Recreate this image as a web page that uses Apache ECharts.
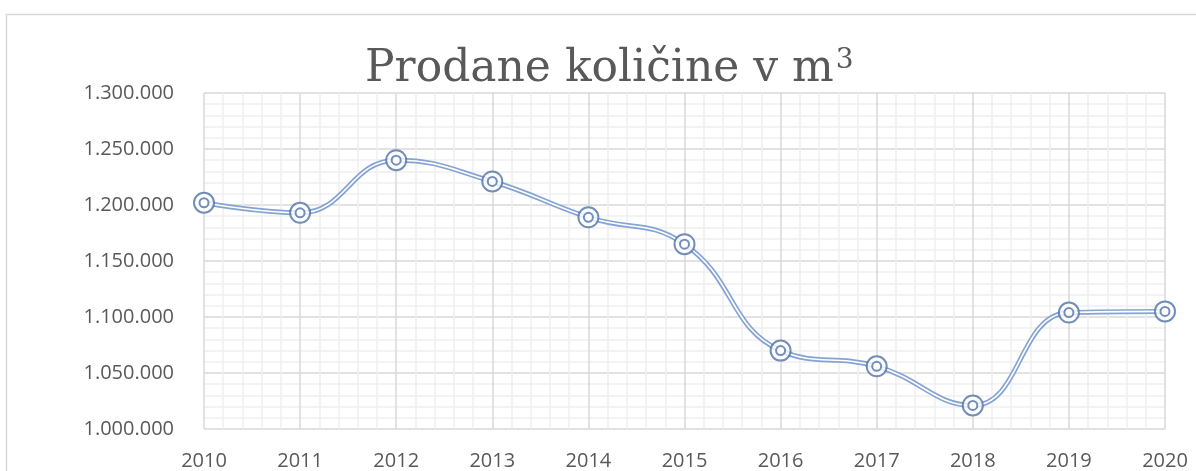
<!DOCTYPE html>
<html>
<head>
<meta charset="utf-8">
<script src="https://cdn.jsdelivr.net/npm/echarts@6/dist/echarts.min.js"></script>
<style>
  html, body { margin: 0; padding: 0; background: #fff; }
  #chart { width: 1196px; height: 471px; }
</style>
</head>
<body>
<div id="chart"></div>
<script>
// years on the x axis
const years = [2010, 2011, 2012, 2013, 2014, 2015, 2016, 2017, 2018, 2019, 2020];
// sold quantities in m3
const quantities = [1202000, 1193000, 1240000, 1221000, 1189000, 1165000, 1070000, 1056000, 1021000, 1104000, 1105000];

const chartTitle = "Prodane količine v m";

function pairs(xs, ys) {
  let out = [];
  for (let i = 0; i < xs.length; i++) {
    out.push([xs[i], ys[i]]);
  }
  return out;
}

// 1.300.000 style labels
function dotted(v) {
  return String(Math.round(v)).replace(/\B(?=(\d{3})+(?!\d))/g, ".");
}

const chart = echarts.init(document.getElementById("chart"));
const points = pairs(years, quantities);
const labelColor = "#595959";
const ringColor = "#5073a8";

const option = {
  animation: false,
  title: {
    text: "{t|" + chartTitle + "}{s|3}",
    left: 360,
    top: 42,
    textStyle: {
      rich: {
        t: { fontFamily: "DejaVu Serif", fontWeight: "normal", fontSize: 44, color: labelColor },
        s: { fontFamily: "DejaVu Serif", fontWeight: "normal", fontSize: 28, color: labelColor, verticalAlign: "top", padding: [0, 0, 18, 2] },
      },
    },
  },
  graphic: [
    {
      type: "rect",
      shape: { x: 6.5, y: 14.5, width: 1220, height: 500 },
      style: { fill: "none", stroke: "#d9d9d9", lineWidth: 1.5 },
      silent: true,
    },
  ],
  grid: { left: 204, right: 31, top: 93, bottom: 41 },
  xAxis: {
    type: "value",
    min: 2010,
    max: 2020,
    interval: 1,
    axisLine: { show: false },
    axisTick: { show: false },
    axisLabel: { color: labelColor, fontFamily: "Open Sans", fontSize: 20, margin: 22, formatter: (v) => String(v) },
    splitLine: { show: true, lineStyle: { color: "#d9d9d9", width: 1.5 } },
    minorTick: { show: false, splitNumber: 5 },
    minorSplitLine: { show: true, lineStyle: { color: "#efefef", width: 1.5 } },
  },
  yAxis: {
    type: "value",
    min: 1000000,
    max: 1300000,
    interval: 50000,
    axisLine: { show: false },
    axisTick: { show: false },
    axisLabel: { color: labelColor, fontFamily: "Open Sans", fontSize: 20, margin: 30, formatter: dotted },
    splitLine: { show: true, lineStyle: { color: "#d9d9d9", width: 1.5 } },
    minorTick: { show: false, splitNumber: 5 },
    minorSplitLine: { show: true, lineStyle: { color: "#efefef", width: 1.5 } },
  },
  series: [
    {
      // outer part of the double line
      type: "line",
      data: points,
      smooth: 0.45,
      symbol: "none",
      lineStyle: { color: "#86a4d2", width: 5 },
      z: 2,
    },
    {
      // white core of the double line
      type: "line",
      data: points,
      smooth: 0.45,
      symbol: "none",
      lineStyle: { color: "#ffffff", width: 1.6 },
      z: 3,
    },
    {
      type: "scatter",
      data: points,
      symbol: "emptyCircle",
      symbolSize: 20,
      itemStyle: { color: ringColor, borderColor: ringColor, borderWidth: 3.2 },
      z: 4,
    },
    {
      type: "scatter",
      data: points,
      symbol: "emptyCircle",
      symbolSize: 9,
      itemStyle: { color: ringColor, borderColor: ringColor, borderWidth: 2.5 },
      z: 5,
    },
  ],
};

chart.setOption(option);
</script>
</body>
</html>
